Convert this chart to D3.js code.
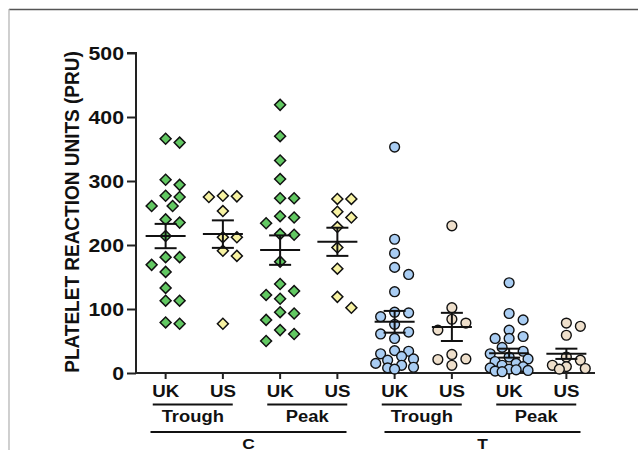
<!DOCTYPE html>
<html>
<head>
<meta charset="utf-8">
<script src="https://cdn.jsdelivr.net/npm/d3@7"></script>
<style>
  html, body { margin: 0; padding: 0; background: #fff; }
  svg { display: block; }
  text { font-family: "Liberation Sans", Arial, sans-serif; font-weight: bold; fill: #111; }
</style>
</head>
<body>
<script>
// ---------------- data ----------------
const categories = ["C Trough UK", "C Trough US", "C Peak UK", "C Peak US",
                    "T Trough UK", "T Trough US", "T Peak UK", "T Peak US"];
const tickLabels = ["UK", "US", "UK", "US", "UK", "US", "UK", "US"];
const subgroupLabels = ["Trough", "Peak", "Trough", "Peak"];
const groupLabels = ["C", "T"];
const yTicks = [0, 100, 200, 300, 400, 500];
const yTitle = "PLATELET REACTION UNITS (PRU)";

const cTroughUK = [366, 360, 302, 294, 277, 275, 261, 261, 240, 235, 214, 181, 181, 169, 158, 133, 113, 113, 79, 77];
const cTroughUS = [277, 276, 275, 253, 212, 212, 191, 183, 77];
const cPeakUK   = [419, 370, 332, 303, 273, 273, 245, 243, 234, 217, 216, 174, 139, 128, 122, 116, 95, 93, 83, 67, 61, 50];
const cPeakUS   = [272, 272, 252, 243, 228, 196, 163, 119, 102];
const tTroughUK = [353, 209, 187, 165, 154, 127, 95, 94, 88, 76, 64, 61, 54, 35, 34, 30, 26, 22, 20, 15, 12, 9, 8, 6];
const tTroughUS = [230, 102, 84, 78, 67, 29, 22, 21, 12];
const tPeakUK   = [141, 93, 83, 67, 57, 54, 54, 40, 34, 30, 25, 22, 18, 15, 12, 10, 8, 6, 5, 4, 3, 2];
const tPeakUS   = [78, 73, 59, 25, 20, 12, 10, 7, 6];
const seriesValues = [cTroughUK, cTroughUS, cPeakUK, cPeakUS, tTroughUK, tTroughUS, tPeakUK, tPeakUS];

const means = [214, 217, 192, 205, 80, 72, 31, 30];
const sems  = [19, 21.5, 23, 22, 17, 22, 7, 8];

// ---------------- styling ----------------
const fills = ["#62c862", "#f7f2a2", "#62c862", "#f7f2a2", "#a9cdf3", "#eedfcb", "#a9cdf3", "#eedfcb"];
const shapes = ["diamond", "diamond", "diamond", "diamond", "circle", "circle", "circle", "circle"];

const W = 638, H = 450;
const svg = d3.select("body").append("svg").attr("width", W).attr("height", H);
svg.append("rect").attr("width", W).attr("height", H).attr("fill", "#fff");

// frame of the picture
svg.append("line").attr("x1", 9).attr("x2", 638).attr("y1", 9.5).attr("y2", 9.5)
   .attr("stroke", "#555").attr("stroke-width", 1.3);
svg.append("line").attr("x1", 9).attr("x2", 9).attr("y1", 9).attr("y2", 450)
   .attr("stroke", "#b0b0b0").attr("stroke-width", 1.2);

const x = d3.scaleBand().domain(categories).range([137, 595]).padding(0);
const y = d3.scaleLinear().domain([0, 500]).range([373, 53]);
const cx = c => x(c) + x.bandwidth() / 2;

// y axis
const yAxis = svg.append("g").attr("transform", "translate(136,0)")
  .call(d3.axisLeft(y).tickValues(yTicks).tickSize(9).tickPadding(3).tickFormat(d3.format("d")));
yAxis.select(".domain").attr("stroke", "#222").attr("stroke-width", 2).attr("d", `M-9,${y(500)}H0V${y(0)}`);
yAxis.selectAll(".tick line").attr("stroke", "#222").attr("stroke-width", 2);
yAxis.selectAll(".tick text")
  .attr("font-size", 19).attr("font-family", "Liberation Sans, Arial, sans-serif")
  .attr("font-weight", "bold").attr("fill", "#111")
  .attr("dy", "0.36em")
  .attr("transform", "translate(-12,0) scale(1.12,1) translate(12,0)");

// x axis
const xAxis = svg.append("g").attr("transform", `translate(0,${y(0)})`)
  .call(d3.axisBottom(x).tickSize(6).tickFormat(""));
xAxis.select(".domain").attr("stroke", "#222").attr("stroke-width", 2).attr("d", `M136,0H595`);
xAxis.selectAll(".tick line").attr("stroke", "#222").attr("stroke-width", 2);

// category tick labels
svg.append("g").selectAll("text").data(categories).join("text")
  .attr("text-anchor", "middle").attr("font-size", 17)
  .attr("transform", (d) => `translate(${cx(d)},397) scale(1.1,1)`)
  .text((d, i) => tickLabels[i]);

// subgroup underline + labels
subgroupLabels.forEach((lab, j) => {
  const m = (cx(categories[2 * j]) + cx(categories[2 * j + 1])) / 2 - 1.5;
  svg.append("line").attr("x1", m - 40).attr("x2", m + 40).attr("y1", 404.5).attr("y2", 404.5)
     .attr("stroke", "#111").attr("stroke-width", 2);
  svg.append("text").attr("text-anchor", "middle").attr("font-size", 17)
     .attr("transform", `translate(${m},421.5) scale(1.08,1)`).text(lab);
});

// group underline + labels
groupLabels.forEach((lab, j) => {
  const m = (cx(categories[4 * j]) + cx(categories[4 * j + 3])) / 2 - 3 + j * 5;
  svg.append("line").attr("x1", m - 98).attr("x2", m + 98).attr("y1", 432).attr("y2", 432)
     .attr("stroke", "#111").attr("stroke-width", 2);
  svg.append("text").attr("text-anchor", "middle").attr("font-size", 15.5)
     .attr("transform", `translate(${m},448.5) scale(1.12,1)`).text(lab);
});

// y title
svg.append("text").attr("text-anchor", "middle").attr("font-size", 19)
  .attr("transform", "translate(78.5,212) scale(1.1,1) rotate(-90)").text(yTitle);

// -------- swarm layout (computed, not typed) --------
function swarm(vals) {
  const step = 14, minD = 11;
  const cands = [0, 1, -1, -0.5, 0.5, -1.35, 1.35];
  const order = vals.map((v, i) => ({ v, i })).sort((a, b) => b.v - a.v);
  const placed = [], offs = new Array(vals.length);
  for (const p of order) {
    const py = y(p.v);
    let best = null, bestD = -1;
    for (const k of cands) {
      let md = Infinity;
      for (const q of placed) {
        const d = Math.hypot((k - q.k) * step, py - q.py);
        if (d < md) md = d;
      }
      if (md >= minD) { best = k; bestD = md; break; }
      if (md > bestD) { bestD = md; best = k; }
    }
    placed.push({ k: best, py });
    offs[p.i] = best * step;
  }
  return offs;
}

const diamond = d3.symbol().type(d3.symbolSquare).size(60);

categories.forEach((c, gi) => {
  const vals = seriesValues[gi];
  const offs = swarm(vals);
  const g = svg.append("g");
  const pts = vals.map((v, i) => ({ v, dx: offs[i] }));
  if (shapes[gi] === "diamond") {
    g.selectAll("path").data(pts).join("path")
      .attr("d", diamond)
      .attr("transform", d => `translate(${cx(c) + d.dx},${y(d.v)}) rotate(45)`)
      .attr("fill", fills[gi]).attr("stroke", "#111").attr("stroke-width", 1.5);
  } else {
    g.selectAll("circle").data(pts).join("circle")
      .attr("cx", d => cx(c) + d.dx).attr("cy", d => y(d.v)).attr("r", 4.9)
      .attr("fill", fills[gi]).attr("stroke", "#111").attr("stroke-width", 1.4);
  }
  // mean and SEM
  const m = means[gi], s = sems[gi], X = cx(c);
  const lg = svg.append("g").attr("stroke", "#111").attr("stroke-width", 2).attr("fill", "none");
  lg.append("line").attr("x1", X - 20).attr("x2", X + 20).attr("y1", y(m)).attr("y2", y(m));
  lg.append("line").attr("x1", X).attr("x2", X).attr("y1", y(m + s)).attr("y2", y(m - s));
  lg.append("line").attr("x1", X - 11).attr("x2", X + 11).attr("y1", y(m + s)).attr("y2", y(m + s));
  lg.append("line").attr("x1", X - 11).attr("x2", X + 11).attr("y1", y(m - s)).attr("y2", y(m - s));
});
</script>
</body>
</html>
